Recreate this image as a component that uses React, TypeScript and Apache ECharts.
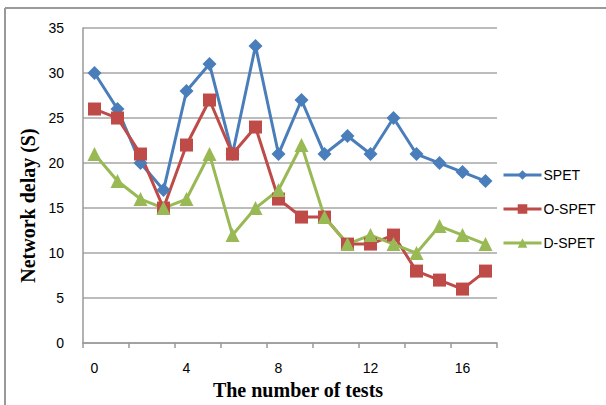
import React, { useEffect, useRef } from "react";
import * as echarts from "echarts";

const categories = ["0","1","2","3","4","5","6","7","8","9","10","11","12","13","14","15","16","17"];
const spet = [30, 26, 20, 17, 28, 31, 21, 33, 21, 27, 21, 23, 21, 25, 21, 20, 19, 18];
const oSpet = [26, 25, 21, 15, 22, 27, 21, 24, 16, 14, 14, 11, 11, 12, 8, 7, 6, 8];
const dSpet = [21, 18, 16, 15, 16, 21, 12, 15, 17, 22, 14, 11, 12, 11, 10, 13, 12, 11];
const seriesNames = ["SPET", "O-SPET", "D-SPET"];

export default function App() {
  const ref = useRef<HTMLDivElement>(null);
  useEffect(() => {
    if (!ref.current) return;
    const chart = echarts.init(ref.current, null, { renderer: "svg" });
    const labelFont = { fontFamily: "Liberation Sans", fontSize: 13, color: "#000" };
    chart.setOption({
      animation: false,
      backgroundColor: "#fff",
      grid: { left: 83, top: 28, right: 109, bottom: 45, containLabel: false },
      legend: {
        orient: "vertical",
        left: 497,
        top: 163,
        itemGap: 20,
        itemWidth: 38,
        itemHeight: 12,
        lineStyle: { width: 3 },
        textStyle: { ...labelFont, fontSize: 14, padding: [0, 0, 0, -3] },
        data: seriesNames,
      },
      xAxis: {
        type: "category",
        data: categories,
        boundaryGap: true,
        name: "The number of tests",
        nameLocation: "middle",
        nameGap: 36,
        nameTextStyle: { fontFamily: "Liberation Serif", fontWeight: "bold", fontSize: 20, color: "#000", padding: [0, 0, 0, 16] },
        axisLine: { lineStyle: { color: "#999", width: 1.5 } },
        axisTick: { show: true, interval: 1, length: 5, lineStyle: { color: "#999", width: 1.5 } },
        axisLabel: { ...labelFont, fontSize: 14, interval: 3, margin: 18 },
        splitLine: { show: false },
      },
      yAxis: {
        type: "value",
        min: 0,
        max: 35,
        interval: 5,
        name: "Network delay (S)",
        nameLocation: "middle",
        nameGap: 45,
        nameRotate: 90,
        nameTextStyle: { fontFamily: "Liberation Serif", fontWeight: "bold", fontSize: 20, color: "#000", padding: [0, 40, 0, 0] },
        axisLine: { show: true, lineStyle: { color: "#999", width: 1.5 } },
        axisTick: { show: false },
        axisLabel: { ...labelFont, fontSize: 14, margin: 19 },
        splitLine: { show: true, lineStyle: { color: "#a6a6a6", width: 1.5 } },
      },
      graphic: [
        { type: "line", shape: { x1: 5, y1: 8, x2: 606, y2: 8 }, style: { stroke: "#999", lineWidth: 2 } },
        { type: "line", shape: { x1: 5, y1: 8, x2: 5, y2: 405 }, style: { stroke: "#999", lineWidth: 2 } },
      ],
      series: [
        {
          name: seriesNames[0],
          type: "line",
          data: spet,
          symbol: "diamond",
          symbolSize: 14,
          itemStyle: { color: "#4a7ebb" },
          lineStyle: { color: "#4a7ebb", width: 3 },
        },
        {
          name: seriesNames[1],
          type: "line",
          data: oSpet,
          symbol: "rect",
          symbolSize: 13,
          itemStyle: { color: "#be4b48" },
          lineStyle: { color: "#be4b48", width: 3 },
        },
        {
          name: seriesNames[2],
          type: "line",
          data: dSpet,
          symbol: "triangle",
          symbolSize: 14,
          itemStyle: { color: "#98b954" },
          lineStyle: { color: "#98b954", width: 3 },
        },
      ],
    });
    return () => chart.dispose();
  }, []);
  return <div ref={ref} style={{ position: "fixed", left: 0, top: 0, width: 606, height: 405 }} />;
}
